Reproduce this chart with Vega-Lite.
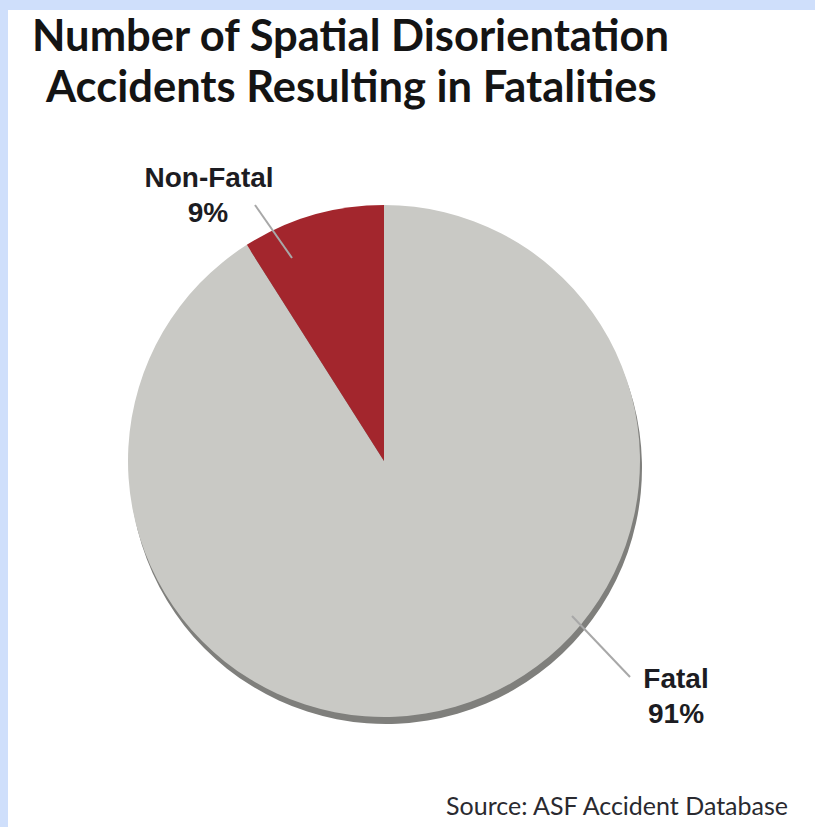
{
  "$schema": "https://vega.github.io/schema/vega-lite/v6.json",
  "width": 815,
  "height": 827,
  "autosize": {"type": "fit", "contains": "padding"},
  "padding": {"left": 8, "top": 10, "right": 0, "bottom": 0},
  "background": "#cfdffb",
  "config": {"view": {"fill": "white", "stroke": null}},
  "data": {"values": [
    {"category": "Fatal", "share": 0.91, "order": 1},
    {"category": "Non-Fatal", "share": 0.09, "order": 2}
  ]},
  "encoding": {},
  "layer": [
    {
      "mark": {"type": "arc", "radius": 256, "fill": "#7f7f7c", "stroke": null},
      "encoding": {
        "x": {"datum": 386, "type": "quantitative", "scale": {"domain": [8, 815], "nice": false, "zero": false}, "axis": null},
        "y": {"datum": 468, "type": "quantitative", "scale": {"domain": [10, 827], "nice": false, "zero": false, "reverse": true}, "axis": null},
        "theta": {"field": "share", "type": "quantitative", "stack": true},
        "order": {"field": "order"}
      }
    },
    {
      "mark": {"type": "arc", "radius": 256, "stroke": null},
      "encoding": {
        "x": {"datum": 384, "type": "quantitative"},
        "y": {"datum": 461, "type": "quantitative"},
        "theta": {"field": "share", "type": "quantitative", "stack": true},
        "order": {"field": "order"},
        "color": {"field": "category", "type": "nominal", "scale": {"domain": ["Fatal", "Non-Fatal"], "range": ["#c9c9c5", "#a3262d"]}, "legend": null}
      }
    },
    {
      "transform": [{"filter": "datum.category === 'Non-Fatal'"}],
      "mark": {"type": "rule", "stroke": "#a8a8a8", "strokeWidth": 2},
      "encoding": {
        "x": {"datum": 255, "type": "quantitative"},
        "y": {"datum": 205, "type": "quantitative"},
        "x2": {"datum": 292},
        "y2": {"datum": 258}
      }
    },
    {
      "transform": [{"filter": "datum.category === 'Fatal'"}],
      "mark": {"type": "rule", "stroke": "#a8a8a8", "strokeWidth": 2},
      "encoding": {
        "x": {"datum": 572, "type": "quantitative"},
        "y": {"datum": 616, "type": "quantitative"},
        "x2": {"datum": 630},
        "y2": {"datum": 677}
      }
    },
    {
      "transform": [{"filter": "datum.category === 'Non-Fatal'"}],
      "mark": {"type": "text", "font": "Liberation Sans", "fontWeight": "bold", "fontSize": 28, "color": "#1c1c22", "align": "center", "baseline": "alphabetic"},
      "encoding": {
        "x": {"datum": 209, "type": "quantitative"},
        "y": {"datum": 187, "type": "quantitative"},
        "text": {"field": "category"}
      }
    },
    {
      "transform": [{"filter": "datum.category === 'Non-Fatal'"}],
      "mark": {"type": "text", "font": "Liberation Sans", "fontWeight": "bold", "fontSize": 28, "color": "#1c1c22", "align": "center", "baseline": "alphabetic"},
      "encoding": {
        "x": {"datum": 208, "type": "quantitative"},
        "y": {"datum": 222, "type": "quantitative"},
        "text": {"field": "share", "type": "quantitative", "format": ".0%"}
      }
    },
    {
      "transform": [{"filter": "datum.category === 'Fatal'"}],
      "mark": {"type": "text", "font": "Liberation Sans", "fontWeight": "bold", "fontSize": 28, "color": "#1c1c22", "align": "center", "baseline": "alphabetic"},
      "encoding": {
        "x": {"datum": 676, "type": "quantitative"},
        "y": {"datum": 688, "type": "quantitative"},
        "text": {"field": "category"}
      }
    },
    {
      "transform": [{"filter": "datum.category === 'Fatal'"}],
      "mark": {"type": "text", "font": "Liberation Sans", "fontWeight": "bold", "fontSize": 28, "color": "#1c1c22", "align": "center", "baseline": "alphabetic"},
      "encoding": {
        "x": {"datum": 676, "type": "quantitative"},
        "y": {"datum": 723, "type": "quantitative"},
        "text": {"field": "share", "type": "quantitative", "format": ".0%"}
      }
    },
    {
      "data": {"values": [{"title": "Number of Spatial Disorientation"}]},
      "mark": {"type": "text", "font": "Lato", "fontWeight": "bold", "fontSize": 43.5, "color": "#141414", "align": "left", "baseline": "alphabetic"},
      "encoding": {
        "x": {"datum": 32, "type": "quantitative"},
        "y": {"datum": 51, "type": "quantitative"},
        "text": {"field": "title"}
      }
    },
    {
      "data": {"values": [{"title": "Accidents Resulting in Fatalities"}]},
      "mark": {"type": "text", "font": "Lato", "fontWeight": "bold", "fontSize": 43.5, "color": "#141414", "align": "left", "baseline": "alphabetic"},
      "encoding": {
        "x": {"datum": 46, "type": "quantitative"},
        "y": {"datum": 102, "type": "quantitative"},
        "text": {"field": "title"}
      }
    },
    {
      "data": {"values": [{"source": "Source: ASF Accident Database"}]},
      "mark": {"type": "text", "font": "Lato", "fontSize": 25, "color": "#2a2a30", "align": "right", "baseline": "alphabetic"},
      "encoding": {
        "x": {"datum": 788, "type": "quantitative"},
        "y": {"datum": 815, "type": "quantitative"},
        "text": {"field": "source"}
      }
    }
  ]
}
